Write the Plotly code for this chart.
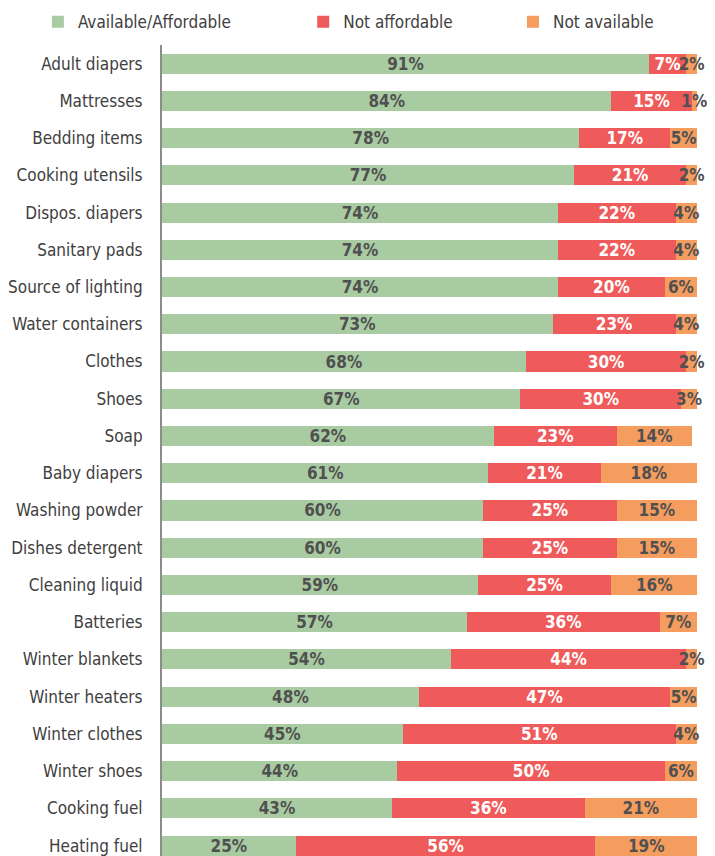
import plotly.graph_objects as go

# categories, top to bottom
items = ['Adult diapers', 'Mattresses', 'Bedding items', 'Cooking utensils',
         'Dispos. diapers', 'Sanitary pads', 'Source of lighting', 'Water containers',
         'Clothes', 'Shoes', 'Soap', 'Baby diapers', 'Washing powder',
         'Dishes detergent', 'Cleaning liquid', 'Batteries', 'Winter blankets',
         'Winter heaters', 'Winter clothes', 'Winter shoes', 'Cooking fuel', 'Heating fuel']

available = [91, 84, 78, 77, 74, 74, 74, 73, 68, 67, 62, 61, 60, 60, 59, 57, 54, 48, 45, 44, 43, 25]
not_affordable = [7, 15, 17, 21, 22, 22, 20, 23, 30, 30, 23, 21, 25, 25, 25, 36, 44, 47, 51, 50, 36, 56]
not_available = [2, 1, 5, 2, 4, 4, 6, 4, 2, 3, 14, 18, 15, 15, 16, 7, 2, 5, 4, 6, 21, 19]

FONT = 'Liberation Sans Narrow, Arial Narrow, DejaVu Sans Condensed, sans-serif'
series = [
    ('Available/Affordable', available, '#a8cba2', '#505050', 'legend', -0.232),
    ('Not affordable', not_affordable, '#ef5a5a', '#ffffff', 'legend2', 0.264),
    ('Not available', not_available, '#f59d5f', '#505050', 'legend3', 0.656),
]

fig = go.Figure()
legends = {}
for name, vals, col, tcol, leg, lx in series:
    fig.add_trace(go.Bar(
        y=items, x=vals, name=name, orientation='h', legend=leg,
        marker=dict(color=col, line=dict(width=0)),
        text=[f'{v}%' for v in vals], textposition='inside',
        insidetextanchor='middle', textangle=0, constraintext='none',
        textfont=dict(family=FONT, size=17, color=tcol, weight='bold'),
        cliponaxis=False, hoverinfo='skip'
    ))
    legends[leg] = dict(orientation='h', x=lx, y=1.028, xanchor='left', yanchor='middle',
                        font=dict(size=17, color='#404040'), itemwidth=30,
                        bgcolor='rgba(0,0,0,0)')

fig.update_layout(
    barmode='stack', bargap=0.46,
    width=715, height=856,
    margin=dict(l=154, r=26, t=37, b=8, autoexpand=False),
    paper_bgcolor='white', plot_bgcolor='white',
    font=dict(family=FONT, size=17, color='#404040'),
    showlegend=True,
    xaxis=dict(range=[0, 100], visible=False, fixedrange=True, automargin=False),
    yaxis=dict(categoryorder='array', categoryarray=items, range=[21.28, -0.5],
               showline=True, linecolor='#8c8c8c', linewidth=2, ticks='',
               ticklabelstandoff=14, showgrid=False, zeroline=False, automargin=False),
    **legends
)

fig.write_html('out.html')
